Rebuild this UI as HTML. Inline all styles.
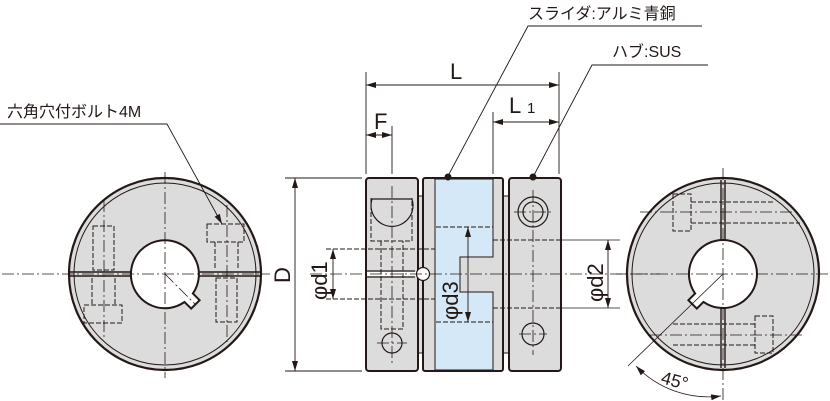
<!DOCTYPE html>
<html><head><meta charset="utf-8"><style>
html,body{margin:0;padding:0;background:#fff}
svg{display:block}
text{font-family:"Liberation Sans","Noto Sans CJK JP",sans-serif;fill:#231815}
</style></head><body>
<svg width="830" height="401" viewBox="0 0 830 401" xmlns="http://www.w3.org/2000/svg">
<defs>
<marker id="a" viewBox="0 0 10 6" refX="10" refY="3" markerWidth="10" markerHeight="6" orient="auto-start-reverse" markerUnits="userSpaceOnUse"><path d="M0,0L10,3L0,6z" fill="#231815"/></marker>
</defs>
<g stroke="#231815" fill="none">
<!-- LEFT CIRCLE -->
<circle cx="165" cy="274" r="96" fill="#dcdcdc" stroke-width="2.2"/>
<circle cx="165" cy="274" r="91" stroke-width="1"/>
<line x1="70" y1="272" x2="260" y2="272" stroke-width="1.4"/>
<line x1="70" y1="276" x2="260" y2="276" stroke-width="1.4"/>
<path d="M192.9,293.5 A34,34 0 1 0 184.5,302 L191.2,308.6 L199.6,300.2 Z" fill="#fff" stroke-width="2"/>
<g stroke-width="1" stroke-dasharray="5,2">
<rect x="93" y="226" width="21" height="44"/>
<rect x="84" y="305" width="38" height="18"/>
<line x1="92" y1="278" x2="92" y2="305"/><line x1="115" y1="278" x2="115" y2="305"/>
<rect x="207" y="224" width="37" height="18"/>
<rect x="216" y="278" width="21" height="44"/>
<line x1="215" y1="242" x2="215" y2="270"/><line x1="238" y1="242" x2="238" y2="270"/>
</g>
<g stroke-width="0.8" stroke-dasharray="12,3,2,3">
<line x1="165" y1="172" x2="165" y2="378"/>
<line x1="2" y1="274" x2="270" y2="274"/>
<line x1="104" y1="200" x2="104" y2="340"/><line x1="227" y1="205" x2="227" y2="345"/>
<line x1="165" y1="274" x2="196" y2="305"/>
</g>
<!-- RIGHT CIRCLE -->
<circle cx="723" cy="274" r="96" fill="#dcdcdc" stroke-width="2.2"/>
<circle cx="723" cy="274" r="91" stroke-width="1"/>
<line x1="721" y1="180" x2="721" y2="368" stroke-width="1.4"/>
<line x1="725" y1="180" x2="725" y2="368" stroke-width="1.4"/>
<path d="M703.5,301.9 A34,34 0 1 0 695.1,293.5 L688.4,300.2 L696.8,308.6 Z" fill="#fff" stroke-width="2"/>
<g stroke-width="1" stroke-dasharray="5,2">
<rect x="673" y="194" width="18" height="37"/>
<line x1="691" y1="202" x2="775" y2="202"/><line x1="691" y1="223" x2="800" y2="223"/>
<rect x="755" y="316" width="18" height="37"/>
<line x1="673" y1="324" x2="755" y2="324"/><line x1="673" y1="345" x2="755" y2="345"/>
</g>
<g stroke-width="0.8" stroke-dasharray="12,3,2,3">
<line x1="723" y1="168" x2="723" y2="400"/>
<line x1="616" y1="274" x2="830" y2="274"/>
<line x1="640" y1="212" x2="800" y2="212"/><line x1="650" y1="335" x2="805" y2="335"/>
</g>
<line x1="723" y1="274" x2="628" y2="366" stroke-width="0.8"/>
<path d="M636,366 A100,100 0 0 0 721,396" stroke-width="0.8" marker-start="url(#a)" marker-end="url(#a)"/>
<!-- CENTER ASSEMBLY -->
<rect x="418" y="196" width="5" height="157" fill="#dcdcdc" stroke-width="1"/>
<rect x="503" y="196" width="6" height="157" fill="#dcdcdc" stroke-width="1"/>
<rect x="366" y="178" width="52" height="193" rx="3" fill="#dcdcdc" stroke-width="2"/>
<rect x="423" y="178" width="80" height="193" rx="2" fill="#dcdcdc" stroke-width="2"/>
<path d="M435,179 H493 V257 H460 V292 H493 V370 H435 Z" fill="#d5e8f7" stroke-width="1"/>
<rect x="509" y="178" width="52" height="193" rx="3" fill="#dcdcdc" stroke-width="2"/>
<path d="M366,271 H415 M366,277 H415" stroke-width="1.2"/>
<rect x="367" y="272" width="50" height="4" fill="#fff" stroke="none"/>
<circle cx="423" cy="274" r="6.5" fill="#fff" stroke-width="1.2"/>
<path d="M372,199 A21,21 0 1 0 412,199 Z" fill="#dcdcdc" stroke-width="1.2"/>
<circle cx="392" cy="343" r="10" stroke-width="1.2"/>
<circle cx="533" cy="212" r="15" stroke-width="1.2"/>
<circle cx="533" cy="212" r="10" stroke-width="1.2"/>
<circle cx="533" cy="334" r="11" stroke-width="1.2"/>
<g stroke-width="1" stroke-dasharray="5,2">
<path d="M371,198 V241 H412 V198"/>
<path d="M381,241 V329 H403 V241"/>
<line x1="436" y1="227" x2="493" y2="227"/><line x1="436" y1="322" x2="493" y2="322"/>
<line x1="493" y1="240" x2="561" y2="240"/><line x1="493" y1="308" x2="561" y2="308"/>
<line x1="326" y1="249" x2="435" y2="249"/><line x1="326" y1="299" x2="435" y2="299"/>
</g>
<g stroke-width="0.8" stroke-dasharray="12,3,2,3">
<line x1="310" y1="274" x2="660" y2="274"/>
<line x1="392" y1="186" x2="392" y2="365"/>
<line x1="533" y1="190" x2="533" y2="355"/>
<line x1="519" y1="334" x2="547" y2="334"/><line x1="514" y1="212" x2="552" y2="212"/>
<line x1="377" y1="343" x2="407" y2="343"/>
</g>
<line x1="561" y1="240" x2="620" y2="240" stroke-width="0.8"/>
<line x1="561" y1="308" x2="620" y2="308" stroke-width="0.8"/>
<g stroke-width="0.9">
<line x1="366" y1="72" x2="366" y2="174"/><line x1="559" y1="72" x2="559" y2="174"/>
<line x1="392" y1="126" x2="392" y2="174"/><line x1="493" y1="112" x2="493" y2="174"/>
<line x1="366" y1="85" x2="559" y2="85" marker-start="url(#a)" marker-end="url(#a)"/>
<line x1="493" y1="122" x2="559" y2="122" marker-start="url(#a)" marker-end="url(#a)"/>
<line x1="366" y1="135" x2="392" y2="135" marker-start="url(#a)" marker-end="url(#a)"/>
<line x1="285" y1="178" x2="362" y2="178"/><line x1="285" y1="371" x2="362" y2="371"/>
<line x1="295" y1="178" x2="295" y2="371" marker-start="url(#a)" marker-end="url(#a)"/>
<line x1="333" y1="249" x2="333" y2="299" marker-start="url(#a)" marker-end="url(#a)"/>
<line x1="608" y1="240" x2="608" y2="308" marker-start="url(#a)" marker-end="url(#a)"/>
<line x1="468" y1="227" x2="468" y2="322" marker-start="url(#a)" marker-end="url(#a)"/>
<polyline points="448,176 528,26 702,26"/>
<polyline points="533,177 592,65 708,65"/>
<polyline points="0,124 167,124 222,224" marker-end="url(#a)"/>
</g>
<circle cx="448" cy="177" r="3.5" fill="#231815" stroke="none"/>
<circle cx="533" cy="177" r="3.5" fill="#231815" stroke="none"/>
</g>
<g font-size="16">
<text x="528" y="19">スライダ:アルミ青銅</text>
<text x="612" y="57">ハブ:SUS</text>
<text x="7" y="117">六角穴付ボルト4M</text>
</g>
<text x="450" y="79" font-size="22">L</text>
<text x="509" y="113" font-size="22">L</text><text x="527" y="113" font-size="15">1</text>
<text x="374" y="129" font-size="22">F</text>
<text transform="translate(290,283) rotate(-90)" font-size="22">D</text>
<text transform="translate(327,300) rotate(-90)" font-size="22">φd1</text>
<text transform="translate(458,320) rotate(-90)" font-size="22">φd3</text>
<text transform="translate(603,302) rotate(-90)" font-size="22">φd2</text>
<text transform="translate(660,383) rotate(15)" font-size="18">45°</text>
</svg>
</body></html>
